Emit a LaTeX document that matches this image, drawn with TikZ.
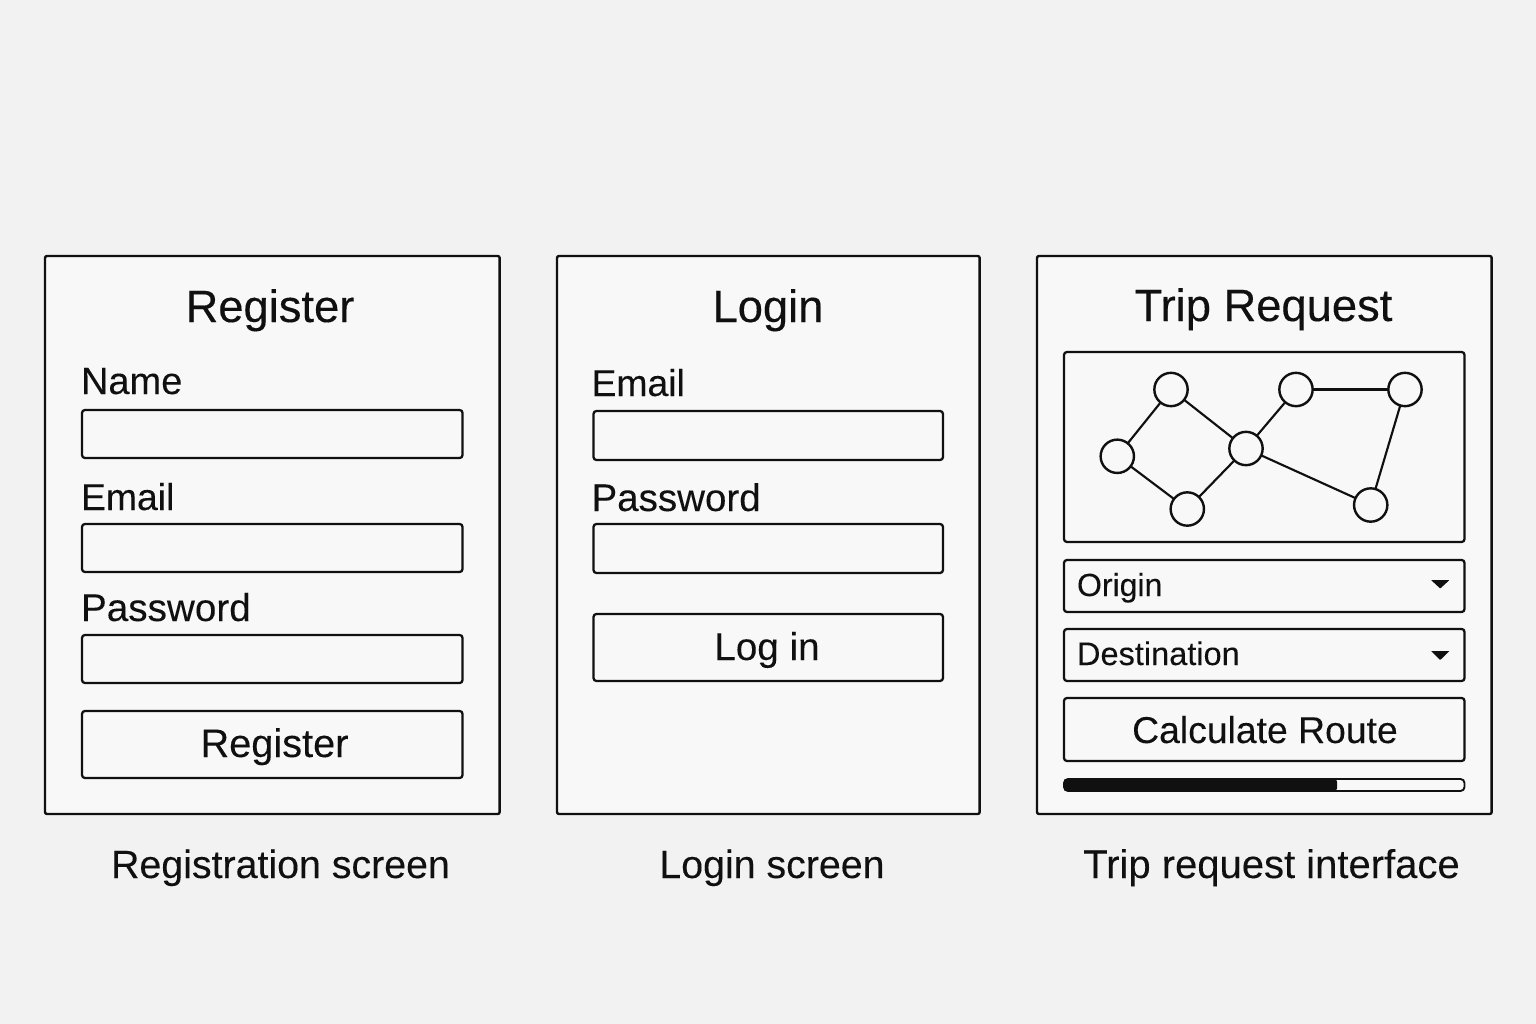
\documentclass[tikz,border=0pt]{standalone}
\usepackage{fontspec}
\setmainfont{Liberation Sans}
\newfontfamily\titlefont[FakeBold=0.25]{Liberation Sans}
\newfontfamily\bodyfont[FakeBold=0.1]{Liberation Sans}
\definecolor{bg}{HTML}{F2F2F2}
\definecolor{panelbg}{HTML}{F8F8F8}
\definecolor{ink}{HTML}{101010}
\begin{document}
\begin{tikzpicture}[x=0.75pt,y=-0.75pt,
  panel/.style={draw=ink,fill=panelbg,line width=1.8pt,rounded corners=1.5pt,inner sep=0pt,outer sep=0pt,anchor=north west},
  field/.style={draw=ink,line width=1.7pt,rounded corners=2.2pt,inner sep=0pt,outer sep=0pt,anchor=north west},
  gnode/.style={circle,draw=ink,line width=1.8pt,minimum size=25pt,inner sep=0pt,outer sep=0pt},
  gedge/.style={draw=ink,line width=1.6pt},
  txt/.style={inner sep=0pt,outer sep=0pt,text=ink},
  head/.style={txt,anchor=base,font=\titlefont\fontsize{34}{40}\selectfont},
  lab/.style={txt,anchor=base west,font=\bodyfont\fontsize{28.5}{34}\selectfont},
  captext/.style={txt,anchor=base,font=\bodyfont\fontsize{29.5}{35}\selectfont}]
\useasboundingbox (0,0) rectangle (1536,1024);
\fill[bg] (0,0) rectangle (1536,1024);
% panels
\node[panel,minimum width=341pt,minimum height=418.5pt] (p1) at (45,256) {};
\node[panel,minimum width=317pt,minimum height=418.5pt] (p2) at (557,256) {};
\node[panel,minimum width=341pt,minimum height=418.5pt] (p3) at (1037,256) {};
% register
\node[head] (t1) at (270,322) {Register};
\node[lab] (l11) at (81,394) {Name};
\node[field,minimum width=285.4pt,minimum height=36pt] (f11) at (82,410) {};
\node[lab,font=\bodyfont\fontsize{28}{34}\selectfont] (l12) at (81,510) {Email};
\node[field,minimum width=285.4pt,minimum height=36pt] (f12) at (82,524) {};
\node[lab,font=\bodyfont\fontsize{29}{34}\selectfont] (l13) at (81,621) {Password};
\node[field,minimum width=285.4pt,minimum height=36pt] (f13) at (82,635) {};
\node[field,minimum width=285.4pt,minimum height=50.25pt] (b1) at (82,711) {};
\node[txt,anchor=base,font=\bodyfont\fontsize{29.8}{35}\selectfont] (bt1) at (274.5,757) {Register};
\node[captext] (c1) at (280.5,878) {Registration screen};
% login
\node[head] (t2) at (768,322) {Login};
\node[lab,font=\bodyfont\fontsize{28}{34}\selectfont] (l21) at (591.5,396) {Email};
\node[field,minimum width=262.1pt,minimum height=36.75pt] (f21) at (593.5,411) {};
\node[lab,font=\bodyfont\fontsize{28.9}{34}\selectfont] (l22) at (591.5,511) {Password};
\node[field,minimum width=262.1pt,minimum height=36.75pt] (f22) at (593.5,524) {};
\node[field,minimum width=262.1pt,minimum height=50.25pt] (b2) at (593.5,614) {};
\node[txt,anchor=base,font=\bodyfont\fontsize{29}{35}\selectfont] (bt2) at (767,660) {Log in};
\node[captext] (c2) at (772,878) {Login screen};
% trip
\node[head] (t3) at (1263.5,321) {Trip Request};
\node[field,minimum width=300.4pt,minimum height=142.5pt] (map) at (1064,352) {};
\node[gnode] (n1) at (1171,389.5) {};
\node[gnode] (n2) at (1296,389.5) {};
\node[gnode] (n3) at (1405,389.5) {};
\node[gnode] (n4) at (1117.3,456.3) {};
\node[gnode] (n5) at (1246,448.5) {};
\node[gnode] (n6) at (1187.3,509) {};
\node[gnode] (n7) at (1370.7,505) {};
\draw[gedge] (n4)--(n1);
\draw[gedge] (n1)--(n5);
\draw[gedge] (n4)--(n6);
\draw[gedge] (n6)--(n5);
\draw[gedge] (n5)--(n2);
\draw[gedge] (n2)--(n3);
\draw[gedge] (n3)--(n7);
\draw[gedge] (n5)--(n7);
\node[field,minimum width=300.4pt,minimum height=39pt] (f31) at (1064,560) {};
\node[txt,anchor=base west,font=\bodyfont\fontsize{24}{29}\selectfont] (o) at (1077,596) {Origin};
\fill[ink,rounded corners=0.4pt] (1431,580)--(1449.5,580)--(1440.2,588.5)--cycle;
\node[field,minimum width=300.4pt,minimum height=39pt] (f32) at (1064,629) {};
\node[txt,anchor=base west,font=\bodyfont\fontsize{24.4}{29}\selectfont] (d) at (1077,665) {Destination};
\fill[ink,rounded corners=0.4pt] (1431,651)--(1449.5,651)--(1440.2,660)--cycle;
\node[field,minimum width=300.4pt,minimum height=47.25pt] (b3) at (1064,698) {};
\node[txt,anchor=base,font=\bodyfont\fontsize{28}{34}\selectfont] (bt3) at (1265,743) {Calculate Route};
\fill[ink,rounded corners=2pt] (1064,779) rectangle (1337,791);
\node[field,rounded corners=3pt,line width=1.4pt,minimum width=300.4pt,minimum height=9pt] (bar) at (1064,779) {};
\node[captext,font=\bodyfont\fontsize{30}{35}\selectfont] (c3) at (1271.5,878) {Trip request interface};
\end{tikzpicture}
\end{document}
